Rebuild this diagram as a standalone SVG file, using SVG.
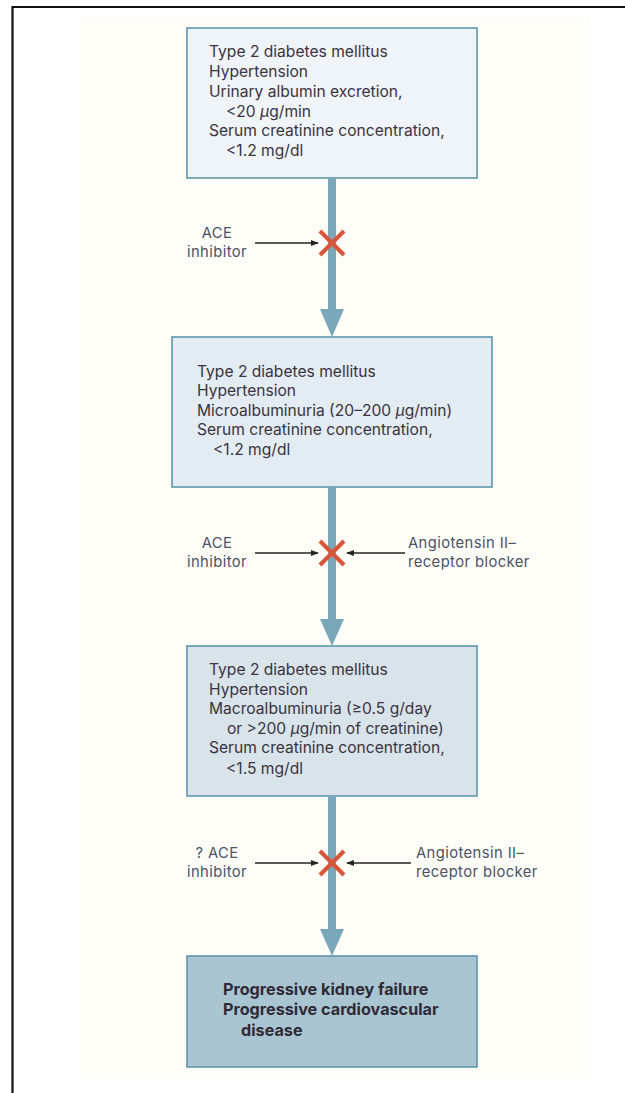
<svg xmlns="http://www.w3.org/2000/svg" width="625" height="1093" viewBox="0 0 625 1093">
<defs>
<style>
.frame{stroke:#111;stroke-width:2.2;fill:none}
.box{stroke:#5e96ab;stroke-width:1.6}
.t{font-family:Inter,"Liberation Sans",sans-serif;font-size:15.6px;fill:#3a3340}
.tb{font-family:Inter,"Liberation Sans",sans-serif;font-size:16.2px;font-weight:bold;fill:#2f2a35}
.lbl{font-family:Inter,"Liberation Sans",sans-serif;font-size:14.8px;letter-spacing:0.4px;fill:#4a5266}
.stem{fill:#7ba7bb}
.x{stroke:#d9553a;stroke-width:4.2;fill:none}
.ar{stroke:#222;stroke-width:1.3;fill:none;marker-end:url(#ah)}
.mu{font-style:italic}
</style>
<marker id="ah" viewBox="0 0 10 10" refX="9" refY="5" markerWidth="8" markerHeight="8" markerUnits="userSpaceOnUse" orient="auto">
<path d="M0,1 L10,5 L0,9 Z" fill="#222"/>
</marker>
</defs>
<rect x="0" y="0" width="625" height="1093" fill="#ffffff"/>
<path class="frame" d="M12.5,1093 V7 H625"/>
<rect x="80" y="17" width="510" height="1057" fill="#fffdf8"/>

<g id="node1">
<rect class="box" x="187" y="28" width="290" height="150" fill="#eff4f8"/>
<text class="t" x="209" y="57">Type 2 diabetes mellitus</text>
<text class="t" x="209" y="77">Hypertension</text>
<text class="t" x="209" y="97">Urinary albumin excretion,</text>
<text class="t" x="226" y="117">&lt;20 <tspan class="mu">μ</tspan>g/min</text>
<text class="t" x="209" y="136">Serum creatinine concentration,</text>
<text class="t" x="226" y="156">&lt;1.2 mg/dl</text>
</g>

<g id="node2">
<rect class="box" x="172" y="337" width="320" height="150" fill="#e2ecf2"/>
<text class="t" x="197" y="377">Type 2 diabetes mellitus</text>
<text class="t" x="197" y="396">Hypertension</text>
<text class="t" x="197" y="416">Microalbuminuria (20–200 <tspan class="mu">μ</tspan>g/min)</text>
<text class="t" x="197" y="435">Serum creatinine concentration,</text>
<text class="t" x="213" y="455">&lt;1.2 mg/dl</text>
</g>

<g id="node3">
<rect class="box" x="187" y="646" width="290" height="150" fill="#d8e3ea"/>
<text class="t" x="209" y="675">Type 2 diabetes mellitus</text>
<text class="t" x="209" y="695">Hypertension</text>
<text class="t" x="209" y="714">Macroalbuminuria (≥0.5 g/day</text>
<text class="t" x="227" y="734">or &gt;200 <tspan class="mu">μ</tspan>g/min of creatinine)</text>
<text class="t" x="209" y="753">Serum creatinine concentration,</text>
<text class="t" x="226" y="774">&lt;1.5 mg/dl</text>
</g>

<g id="node4">
<rect class="box" x="187" y="956" width="290" height="111" fill="#aac5d2"/>
<text class="tb" x="223" y="995">Progressive kidney failure</text>
<text class="tb" x="223" y="1015">Progressive cardiovascular</text>
<text class="tb" x="241" y="1036">disease</text>
</g>

<g id="connectors">
<rect class="stem" x="328" y="178" width="8" height="132"/>
<polygon class="stem" points="320,309 344,309 332,337"/>
<rect class="stem" x="328" y="487" width="8" height="133"/>
<polygon class="stem" points="320,619 344,619 332,646"/>
<rect class="stem" x="328" y="796" width="8" height="134"/>
<polygon class="stem" points="320,929 344,929 332,956"/>

<line class="ar" x1="255" y1="243" x2="318" y2="243"/>
<line class="ar" x1="255" y1="553" x2="318" y2="553"/>
<line class="ar" x1="405" y1="553" x2="347" y2="553"/>
<line class="ar" x1="255" y1="863" x2="318" y2="863"/>
<line class="ar" x1="411" y1="863" x2="347" y2="863"/>

<path class="x" d="M320,231 L344,255 M344,231 L320,255"/>
<path class="x" d="M320,541 L344,565 M344,541 L320,565"/>
<path class="x" d="M320,851 L344,875 M344,851 L320,875"/>
</g>

<g id="labels">
<text class="lbl" x="217" y="238" text-anchor="middle">ACE</text>
<text class="lbl" x="217" y="257" text-anchor="middle">inhibitor</text>
<text class="lbl" x="217" y="548" text-anchor="middle">ACE</text>
<text class="lbl" x="217" y="567" text-anchor="middle">inhibitor</text>
<text class="lbl" x="408" y="548">Angiotensin II–</text>
<text class="lbl" x="408" y="567">receptor blocker</text>
<text class="lbl" x="217" y="858" text-anchor="middle">? ACE</text>
<text class="lbl" x="217" y="877" text-anchor="middle">inhibitor</text>
<text class="lbl" x="416" y="858">Angiotensin II–</text>
<text class="lbl" x="416" y="877">receptor blocker</text>
</g>
</svg>
